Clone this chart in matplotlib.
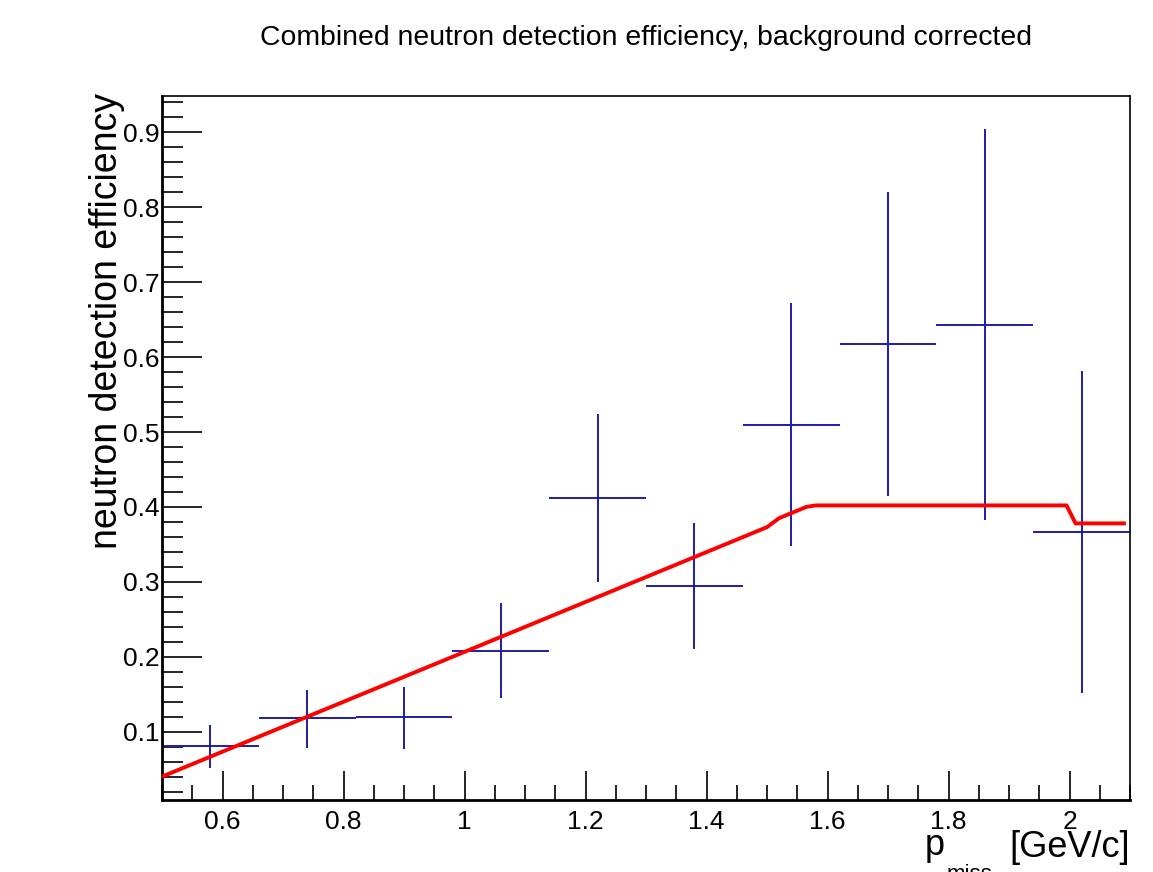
import matplotlib
matplotlib.use('Agg')
import matplotlib.pyplot as plt
from matplotlib.ticker import MultipleLocator, FuncFormatter

plt.rcParams['font.family'] = ['Liberation Sans', 'DejaVu Sans']

# binned efficiency points (asymmetric errors)
p_centers = [0.58, 0.74, 0.90, 1.06, 1.22, 1.38, 1.54, 1.70, 1.86, 2.02]
bin_half = [0.08] * 10
eff = [0.081, 0.118, 0.120, 0.208, 0.412, 0.295, 0.509, 0.618, 0.643, 0.367]
err_hi = [0.109, 0.156, 0.160, 0.272, 0.524, 0.379, 0.672, 0.820, 0.904, 0.581]
err_lo = [0.052, 0.078, 0.077, 0.145, 0.300, 0.210, 0.348, 0.414, 0.383, 0.152]

# red curve
curve_x = [0.5, 1.5, 1.52, 1.565, 1.58, 1.995, 2.01, 2.09]
curve_y = [0.040, 0.373, 0.385, 0.400, 0.402, 0.402, 0.378, 0.378]

W, H = 1153, 872
fig = plt.figure(figsize=(W / 100, H / 100), dpi=100)
ax = fig.add_axes([162 / W, 1 - 800 / H, (1130 - 162) / W, (800 - 96) / H])

yerr = [[e - l for e, l in zip(eff, err_lo)], [h - e for e, h in zip(eff, err_hi)]]
ax.errorbar(p_centers, eff, xerr=bin_half, yerr=yerr, fmt='none',
            ecolor='#1c1ca8', elinewidth=1.4, capsize=0, zorder=2)
ax.plot(curve_x, curve_y, color='#ff0000', lw=2.8, zorder=3)

ax.set_xlim(0.5, 2.1)
ax.set_ylim(0.0088, 0.9485)

ax.xaxis.set_major_locator(MultipleLocator(0.2))
ax.xaxis.set_minor_locator(MultipleLocator(0.05))
ax.yaxis.set_major_locator(MultipleLocator(0.1))
ax.yaxis.set_minor_locator(MultipleLocator(0.02))
fmt = FuncFormatter(lambda v, pos: ('%g' % round(v, 2)))
ax.xaxis.set_major_formatter(fmt)
ax.yaxis.set_major_formatter(fmt)

ax.tick_params(axis='both', which='both', direction='in', top=False, right=False,
               labelsize=19, width=1.2)
ax.tick_params(axis='x', which='major', length=21, pad=7)
ax.tick_params(axis='x', which='minor', length=11)
ax.tick_params(axis='y', which='major', length=29, pad=2)
ax.tick_params(axis='y', which='minor', length=15)
for s in ['left', 'bottom']:
    ax.spines[s].set_linewidth(2)
for s in ['top', 'right']:
    ax.spines[s].set_linewidth(1.2)

fig.text(646 / W, 1 - 38 / H, 'Combined neutron detection efficiency, background corrected',
         ha='center', va='center', fontsize=20.4)
fig.text(107 / W, 1 - 321 / H, 'neutron detection efficiency', rotation=90,
         ha='center', va='center', fontsize=27)
# x title drawn ROOT-style with a low subscript
fig.text(925 / W, 1 - 855 / H, 'p', ha='left', va='baseline', fontsize=26)
fig.text(947 / W, 1 - 880 / H, 'miss', ha='left', va='baseline', fontsize=16)
fig.text(1130 / W, 1 - 857 / H, '[GeV/c]', ha='right', va='baseline', fontsize=26)

fig.savefig('out.png', dpi=100)
